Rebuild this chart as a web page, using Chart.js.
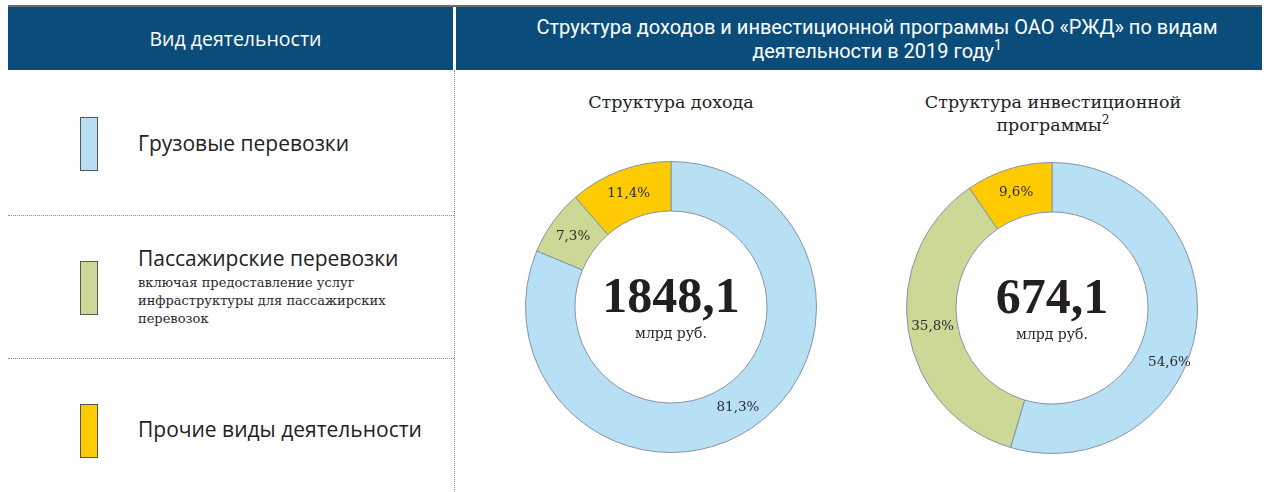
<!DOCTYPE html>
<html><head><meta charset="utf-8">
<script src="https://cdn.jsdelivr.net/npm/chart.js@4.4.1/dist/chart.umd.min.js"></script>
<style>
html,body{margin:0;padding:0;background:#fff;width:1264px;height:492px;overflow:hidden;position:relative;font-family:"Open Sans",sans-serif;}
.abs{position:absolute;}
.topline{left:8px;top:5px;width:1254px;height:2px;background:#6b6b6b;}
.hdr{background:#0a4d7b;color:#fff;top:7px;height:63px;display:flex;align-items:center;justify-content:center;text-align:center;box-sizing:border-box;}
.hleft{left:8px;width:445px;font-size:19.5px;padding-left:10px;}
.hright{left:456px;width:806px;font-family:Roboto,sans-serif;font-size:20px;line-height:24px;letter-spacing:0px;padding-left:36px;}
.vdot{left:454px;top:70px;height:422px;border-left:1px dotted #8a8a8a;}
.hdot{left:8px;width:446px;border-top:1px dotted #8a8a8a;}
.box{left:80px;width:16px;height:52px;border:1px solid #555;}
.ltxt{left:138px;font-size:21px;color:#222;white-space:nowrap;}
.lsub{left:138px;font-family:"DejaVu Serif",serif;font-size:13px;line-height:18px;color:#2a2a2a;}
.ctitle{font-family:"DejaVu Serif",serif;font-size:17.5px;color:#222;text-align:center;line-height:23px;}
sup{font-size:70%;line-height:0;vertical-align:super;}
canvas{position:absolute;}
</style></head>
<body>
<div class="abs topline"></div>
<div class="abs hdr hleft">Вид деятельности</div>
<div class="abs hdr hright"><div>Структура доходов и инвестиционной программы ОАО «РЖД» по видам<br>деятельности в 2019 году<sup>1</sup></div></div>
<div class="abs vdot"></div>
<div class="abs hdot" style="top:215px"></div>
<div class="abs hdot" style="top:358px"></div>

<div class="abs box" id="b0" style="top:117px"></div>
<div class="abs box" id="b1" style="top:261px"></div>
<div class="abs box" id="b2" style="top:404px"></div>
<div class="abs ltxt" id="l0" style="top:129px"></div>
<div class="abs ltxt" id="l1" style="top:244px"></div>
<div class="abs lsub" id="s1" style="top:274px;width:300px"></div>
<div class="abs ltxt" id="l2" style="top:415px"></div>

<div class="abs ctitle" style="left:551px;width:240px;top:91px">Структура дохода</div>
<div class="abs ctitle" style="left:903px;width:300px;top:91px">Структура инвестиционной<br>программы<sup>2</sup></div>

<canvas id="c1" width="292" height="292" style="left:525px;top:161px"></canvas>
<canvas id="c2" width="292" height="292" style="left:906px;top:162px"></canvas>

<script>
const categories = ['Грузовые перевозки', 'Пассажирские перевозки', 'Прочие виды деятельности'];
const passengerNote = ['включая предоставление услуг', 'инфраструктуры для пассажирских', 'перевозок'];
const incomeShares = [81.3, 7.3, 11.4];
const investShares = [54.6, 35.8, 9.6];
const incomeTotal = '1848,1';
const investTotal = '674,1';
const unitLabel = 'млрд руб.';
const sliceColors = ['#b8e0f5', '#cbd896', '#fecb00'];

categories.forEach((c, i) => {
  document.getElementById('l' + i).textContent = c;
  document.getElementById('b' + i).style.background = sliceColors[i];
});
document.getElementById('s1').innerHTML = passengerNote.join('<br>');

const fmt = v => v.toFixed(1).replace('.', ',') + '%';

const sliceLabels = {
  id: 'sliceLabels',
  afterDatasetsDraw(chart, args, opts) {
    const ctx = chart.ctx;
    const meta = chart.getDatasetMeta(0);
    const data = chart.data.datasets[0].data;
    ctx.save();
    ctx.font = '13.5px "DejaVu Serif", serif';
    ctx.fillStyle = '#2a2a2a';
    ctx.textAlign = 'center';
    ctx.textBaseline = 'middle';
    meta.data.forEach((arc, i) => {
      const p = arc.tooltipPosition();
      const s = (opts.shift && opts.shift[i]) || [0, 0];
      ctx.fillText(fmt(data[i]), p.x + s[0], p.y + s[1]);
    });
    ctx.restore();
  }
};
const centerText = {
  id: 'centerText',
  afterDatasetsDraw(chart, args, opts) {
    const ctx = chart.ctx;
    const arc = chart.getDatasetMeta(0).data[0];
    const x = arc.x, y = arc.y;
    ctx.save();
    ctx.textAlign = 'center';
    ctx.textBaseline = 'alphabetic';
    ctx.fillStyle = '#231f20';
    ctx.font = 'bold 50px "Liberation Serif", serif';
    ctx.fillText(opts.total, x, y + 5);
    ctx.fillStyle = '#2a2a2a';
    ctx.font = '14px "DejaVu Serif", serif';
    ctx.fillText(opts.unit, x, y + 31);
    ctx.restore();
  }
};

function makeChart(id, values, total, shift) {
  return new Chart(document.getElementById(id), {
    type: 'doughnut',
    data: {
      labels: categories,
      datasets: [{
        data: values,
        backgroundColor: sliceColors,
        borderColor: '#8593a6',
        borderWidth: 1
      }]
    },
    options: {
      responsive: false,
      animation: false,
      cutout: '66%',
      layout: { padding: 0 },
      plugins: {
        legend: { display: false },
        tooltip: { enabled: false },
        sliceLabels: { shift: shift },
        centerText: { total: total, unit: unitLabel }
      }
    },
    plugins: [sliceLabels, centerText]
  });
}
makeChart('c1', incomeShares, incomeTotal, [[0, 0], [0, 0], [0, 0]]);
makeChart('c2', investShares, investTotal, [[-2, 37], [0, 0], [0, 0]]);
</script>
</body></html>
